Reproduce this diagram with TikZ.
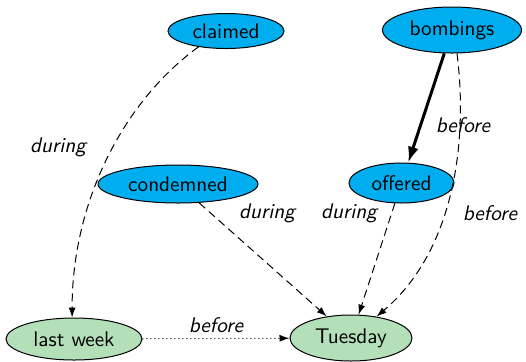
\documentclass[tikz,border=0pt]{standalone}
\usetikzlibrary{shapes.geometric,arrows.meta}
\definecolor{nodeblue}{RGB}{0,174,239}
\definecolor{nodegreen}{RGB}{179,223,185}
\begin{document}
\begin{tikzpicture}[x=0.5pt,y=-0.5pt,
  ev/.style={ellipse,draw=black,line width=0.5pt,fill=nodeblue,inner sep=0pt,
    font=\sffamily\fontsize{10.6}{12}\selectfont},
  tm/.style={ev,fill=nodegreen},
  lbl/.style={font=\sffamily\slshape\fontsize{10.6}{12}\selectfont,inner sep=0pt},
  rel/.style={line width=0.5pt,dash pattern=on 4pt off 2.5pt,-{Latex[length=5pt,width=3.5pt]}},
  dot/.style={line width=0.5pt,dash pattern=on 0.5pt off 1.5pt,-{Latex[length=5pt,width=3.5pt]}},
  strong/.style={line width=1.5pt,-{Latex[length=8pt,width=5.5pt]}}
]
\useasboundingbox (0,0) rectangle (526,361);
\node[ev,minimum width=58pt,minimum height=17.5pt] (claimed) at (226,31) {claimed};
\node[ev,minimum width=69.5pt,minimum height=23pt] (bombings) at (452,30) {bombings};
\node[ev,minimum width=80pt,minimum height=19pt] (condemned) at (178,184) {condemned};
\node[ev,minimum width=52.5pt,minimum height=20pt] (offered) at (401.5,183) {offered};
\node[tm,minimum width=68pt,minimum height=21pt] (lastweek) at (74,339) {last week};
\node[tm,minimum width=61pt,minimum height=23pt] (tuesday) at (351,338) {Tuesday};

\draw[rel] (claimed.210) .. controls (125,100) and (72,200) .. (lastweek.95);
\draw[strong] (bombings) -- (offered);
\draw[rel] (bombings.282) .. controls (468,140) and (455,250) .. (tuesday.40);
\draw[rel] (condemned) -- (tuesday);
\draw[rel] (offered) -- (tuesday);
\draw[dot] (lastweek) -- (tuesday);

\node[lbl] (l1) at (58,147) {during};
\node[lbl] (l2) at (463,125) {before};
\node[lbl] (l3) at (267,213) {during};
\node[lbl] (l4) at (349,213) {during};
\node[lbl] (l5) at (490,213) {before};
\node[lbl] (l6) at (216,325) {before};
\end{tikzpicture}
\end{document}
